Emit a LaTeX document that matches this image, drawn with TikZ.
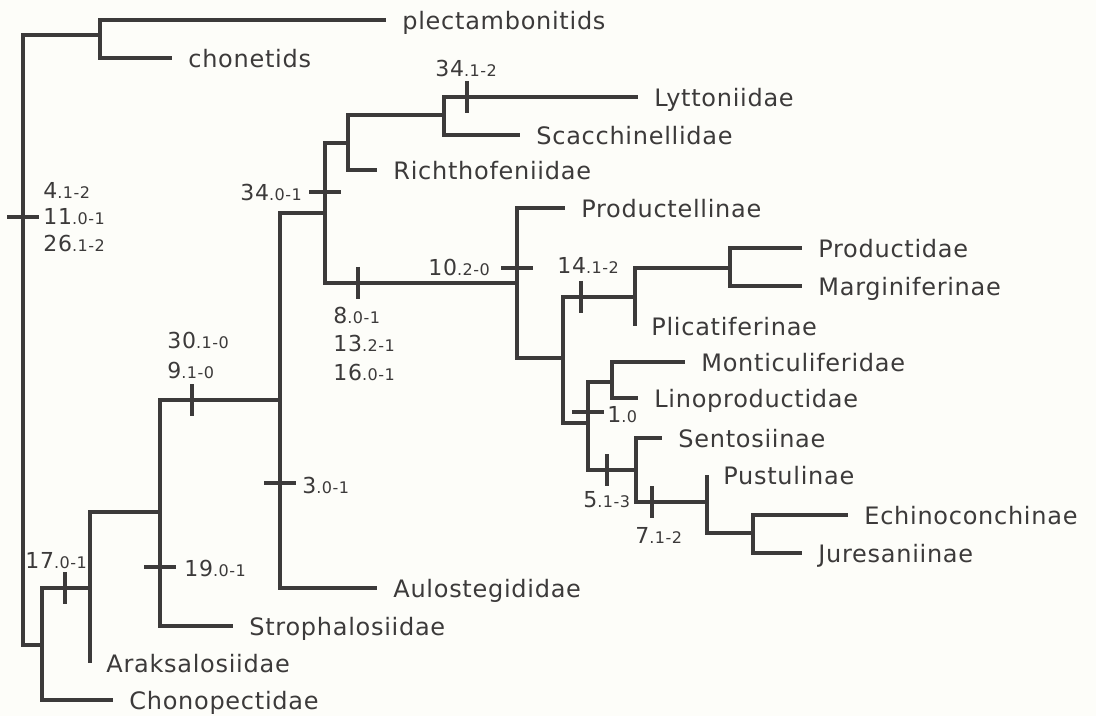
\documentclass[tikz,border=0pt]{standalone}
\usepackage{fontspec}
\setmainfont{DejaVu Sans}
\newfontfamily\taxfont[LetterSpace=3]{DejaVu Sans}
\newfontfamily\chfont[LetterSpace=3]{DejaVu Sans}
\usepackage{xcolor}
\usepackage{tikz}
\usetikzlibrary{positioning, calc}

\definecolor{ink}{RGB}{60,58,58}
\definecolor{paper}{RGB}{253,253,249}

% character state label: big number, small state change
\newcommand{\chst}[2]{{\fontsize{11}{12}\selectfont #1}{\fontsize{8}{9}\selectfont #2}}

\begin{document}
\begin{tikzpicture}[
    x=0.5pt, y=-0.5pt,
    branch/.style={draw=ink, line width=1.75pt},
    taxon/.style={text=ink, inner sep=0pt, anchor=west, text height=9.2pt, text depth=0pt,
                  font=\taxfont\fontsize{12}{14}\selectfont},
    chr/.style={text=ink, inner sep=0pt, anchor=west, font=\chfont},
]

% === Canvas ===
\fill[paper] (0,0) rectangle (1096,716);
\useasboundingbox (0,0) rectangle (1096,716);

% === Internal nodes (point where the incoming branch arrives) ===
\coordinate (root) at (23,217);
\coordinate (nPC)  at (100,35);
\coordinate (nLow) at (42,645);
\coordinate (nAr)  at (90,588);
\coordinate (nSt)  at (160,512);
\coordinate (nAu)  at (280,400);
\coordinate (nCore) at (325,213);
\coordinate (nRi)  at (348,143);
\coordinate (nLy)  at (444,115);
\coordinate (nPr)  at (517,283);
\coordinate (nPm)  at (563,358);
\coordinate (nPl)  at (635,297);
\coordinate (nPd)  at (730,268);
\coordinate (nLi)  at (588,423);
\coordinate (nMo)  at (612,382);
\coordinate (nSe)  at (636,470);
\coordinate (nPu)  at (707,502);
\coordinate (nEc)  at (753,533);

% === Tips ===
\coordinate (tPle) at (386,20);
\coordinate (tCho) at (172,58);
\coordinate (tLyt) at (638,97);
\coordinate (tSca) at (520,135);
\coordinate (tRic) at (377,170);
\coordinate (tPdl) at (565,208);
\coordinate (tPdd) at (802,248);
\coordinate (tMar) at (802,286);
\coordinate (tPli) at (635,326);
\coordinate (tMon) at (685,362);
\coordinate (tLin) at (638,398);
\coordinate (tSen) at (662,438);
\coordinate (tPus) at (707,475);
\coordinate (tEch) at (848,515);
\coordinate (tJur) at (802,553);
\coordinate (tAul) at (377,588);
\coordinate (tStr) at (233,626);
\coordinate (tAra) at (90,663);
\coordinate (tCpc) at (113,700);

% === Branches ===
\foreach \a/\b in {root/nPC, root/nLow, nPC/tPle, nPC/tCho,
                   nLow/nAr, nLow/tCpc, nAr/nSt, nAr/tAra,
                   nSt/nAu, nSt/tStr, nAu/nCore, nAu/tAul,
                   nCore/nRi, nCore/nPr, nRi/nLy, nRi/tRic,
                   nLy/tLyt, nLy/tSca, nPr/tPdl, nPr/nPm,
                   nPm/nPl, nPm/nLi, nPl/nPd, nPl/tPli,
                   nPd/tPdd, nPd/tMar, nLi/nMo, nLi/nSe,
                   nMo/tMon, nMo/tLin, nSe/tSen, nSe/nPu,
                   nPu/tPus, nPu/nEc, nEc/tEch, nEc/tJur}
    \draw[branch] (\a) |- (\b);

% === Character ticks ===
% horizontal ticks on vertical branches
\foreach \p in {(23,217), (160,567), (280,483), (325,192), (517,268), (588,412)}
    \draw[branch] \p ++(-16,0) -- ++(32,0);
% vertical ticks on horizontal branches
\foreach \p in {(65,588), (192,400), (467,97), (358,283), (581,297), (607,470), (652,502)}
    \draw[branch] \p ++(0,-16) -- ++(0,32);

% === Taxon labels ===
\foreach \t/\n in {tPle/plectambonitids, tCho/chonetids, tLyt/Lyttoniidae,
                   tSca/Scacchinellidae, tRic/Richthofeniidae, tPdl/Productellinae,
                   tPdd/Productidae, tMar/Marginiferinae, tPli/Plicatiferinae,
                   tMon/Monticuliferidae, tLin/Linoproductidae, tSen/Sentosiinae,
                   tPus/Pustulinae, tEch/Echinoconchinae, tJur/Juresaniinae,
                   tAul/Aulostegididae, tStr/Strophalosiidae, tAra/Araksalosiidae,
                   tCpc/Chonopectidae}
    \node[taxon, right=8pt of \t] (l\t) {\n};

% === Character labels ===
\node[chr] (c4)   at (43,190)  {\chst{4}{.1-2}};
\node[chr] (c11)  at (43,217)  {\chst{11}{.0-1}};
\node[chr] (c26)  at (43,243)  {\chst{26}{.1-2}};
\node[chr] (c17)  at (25,561)  {\chst{17}{.0-1}};
\node[chr] (c19)  at (184,568) {\chst{19}{.0-1}};
\node[chr] (c30)  at (167,340) {\chst{30}{.1-0}};
\node[chr] (c9)   at (167,370) {\chst{9}{.1-0}};
\node[chr] (c3)   at (302,485) {\chst{3}{.0-1}};
\node[chr] (c34a) at (240,192) {\chst{34}{.0-1}};
\node[chr] (c34b) at (435,68)  {\chst{34}{.1-2}};
\node[chr] (c8)   at (333,315) {\chst{8}{.0-1}};
\node[chr] (c13)  at (333,343) {\chst{13}{.2-1}};
\node[chr] (c16)  at (333,372) {\chst{16}{.0-1}};
\node[chr] (c10)  at (428,267) {\chst{10}{.2-0}};
\node[chr] (c14)  at (557,265) {\chst{14}{.1-2}};
\node[chr] (c1)   at (607,415) {\chst{1}{.0}};
\node[chr] (c5)   at (583,500) {\chst{5}{.1-3}};
\node[chr] (c7)   at (635,535) {\chst{7}{.1-2}};

\end{tikzpicture}
\end{document}
